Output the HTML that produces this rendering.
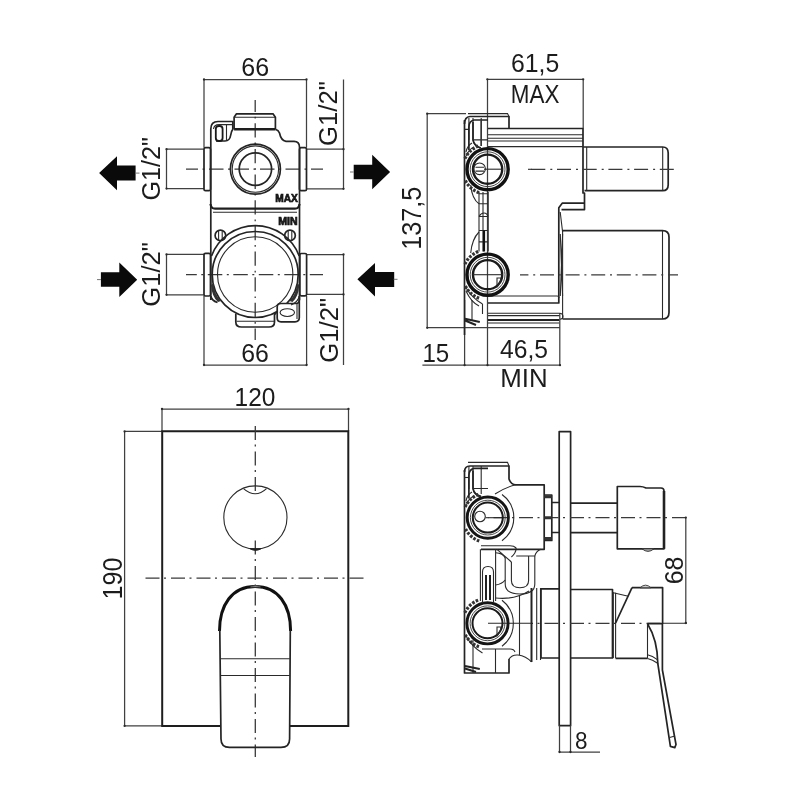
<!DOCTYPE html>
<html><head><meta charset="utf-8">
<style>
html,body{margin:0;padding:0;background:#fff;}
body{width:800px;height:800px;overflow:hidden;}
svg{display:block;will-change:transform;}
text{font-family:"Liberation Sans",sans-serif;fill:#1c1c1c;}
.d{stroke:#404040;stroke-width:1.25;fill:none;}
.o{stroke:#242424;stroke-width:1.7;fill:none;stroke-linejoin:round;}
.t{stroke:#2a2a2a;stroke-width:1.1;fill:none;}
.k{stroke:#111;stroke-width:3;fill:none;}
.c{stroke:#3a3a3a;stroke-width:1.3;fill:none;stroke-dasharray:14 4.5 2 5;}
.a{fill:#0a0a0a;stroke:none;}
</style></head>
<body>
<svg width="800" height="800" viewBox="0 0 800 800">
<rect width="800" height="800" fill="#fff"/>


<!-- ============ TOP-LEFT VIEW ============ -->
<g id="tl">
  <!-- dimension 66 top -->
  <path class="d" d="M204,79.5H306.5 M204,79.5V147.5 M306.5,79.5V147.5"/>
  <text x="241.3" y="76.3" font-size="26.5" textLength="27.8" lengthAdjust="spacingAndGlyphs">66</text>
  <!-- dimension 66 bottom -->
  <path class="d" d="M204,365H306.6 M204,296V365 M306.6,296V365"/>
  <text x="241.3" y="362" font-size="26.5" textLength="27.6" lengthAdjust="spacingAndGlyphs">66</text>
  <!-- G1/2 dims left -->
  <path class="d" d="M166.5,149.2V188.6 M166.5,149.2H204 M166.5,188.6H204"/>
  <path class="d" d="M166.5,254.4V294.8 M166.5,254.4H204 M166.5,294.8H204"/>
  <!-- G1/2 dims right -->
  <path class="d" d="M343.5,79.5V188.8 M306.5,149.2H343.5 M306.5,188.8H343.5"/>
  <path class="d" d="M343.5,254.5V365 M306.6,254.5H343.5 M306.6,294.4H343.5"/>
  <text transform="translate(160.3,200.6) rotate(-90)" font-size="26" textLength="63.6" lengthAdjust="spacingAndGlyphs">G1/2"</text>
  <text transform="translate(160.3,306.7) rotate(-90)" font-size="26" textLength="64.6" lengthAdjust="spacingAndGlyphs">G1/2"</text>
  <text transform="translate(337.3,146) rotate(-90)" font-size="26" textLength="65" lengthAdjust="spacingAndGlyphs">G1/2"</text>
  <text transform="translate(337.8,362.8) rotate(-90)" font-size="26" textLength="65" lengthAdjust="spacingAndGlyphs">G1/2"</text>

  <!-- arrows -->
  <path class="a" d="M99.1,173.1 L117,156.3 V165.6 H135.6 V180.6 H117 V190.2 Z"/>
  <path class="a" d="M390.1,172 L372.2,154.7 V164.8 H353.7 V179.2 H372.2 V189.2 Z"/>
  <path class="a" d="M137.2,279.7 L119.3,262.6 V272.3 H100.9 V286.7 H119.3 V297 Z"/>
  <path class="a" d="M357.4,279.2 L375,262.9 V272 H394.2 V286.9 H375 V296.5 Z"/>

  <path stroke="#666" stroke-width="0.9" d="M135.6,173.1H139.5 M350,172H353.7 M97,279.6H100.9 M393.6,279.3H397.5"/>
  <!-- centerlines -->
  <path class="c" style="stroke-dasharray:14.3 4.9 1.7 4.75;stroke-dashoffset:2.35" d="M255.2,100V340"/>
  <path class="c" style="stroke-dasharray:14.5 4.5 2 4.5;stroke-dashoffset:2.5" d="M186,169.2H323"/>
  <path class="c" style="stroke-dasharray:14.5 4.5 2 4.5;stroke-dashoffset:3.7" d="M186,274.6H323"/>

  <!-- stubs -->
  <rect class="o" x="204" y="147.7" width="6.5" height="43" rx="1.5"/>
  <rect class="o" x="299.5" y="147.7" width="7" height="43" rx="1.5"/>
  <rect class="o" x="204" y="253.3" width="6.5" height="42.7" rx="1.5"/>
  <rect class="o" x="299.8" y="253.5" width="6.8" height="42.3" rx="1.5"/>

  <!-- body outline -->
  <path class="o" d="M210.8,300 V129 Q210.8,121.5 218,121.5 H232.8 V129.3 Q231.2,131 230.6,135.5 Q229.8,140.8 225,141 H216
     M275.4,129.2 Q278.5,130 279.5,133 Q281,140.5 286,141.3 H294 Q299.5,141.5 299.5,147 V300"/>
  <!-- cap -->
  <path class="o" d="M234.1,129.2 V117.2 L236.5,113.8 H273 L275.4,117.2 V129.2"/>
  <path class="t" d="M234.1,117.2 H275.4"/>
  <path stroke="#1e1e1e" stroke-width="2.4" d="M234.1,129.2 H275.4"/>
  <!-- lug slot -->
  <rect x="215.8" y="126" width="6.8" height="15" rx="3" stroke="#1a1a1a" stroke-width="1.8" fill="none"/>
  <path class="t" d="M226.5,124.6 V140.5 M213.5,129 Q214,124.6 219,124.6 H232.8"/>

  <!-- upper port circles -->
  <circle class="o" cx="255.4" cy="169.1" r="25"/>
  <circle class="t" cx="255.4" cy="169.1" r="23.2"/>
  <circle class="o" cx="255.4" cy="169.1" r="16.2"/>

  <!-- divider -->
  <path stroke="#1e1e1e" stroke-width="2.2" fill="none" d="M210.5,204 Q211,208.6 215,208.6 H295 Q299,208.6 299.5,204"/>
  <path class="t" d="M213,212.2 H297"/>
  <!-- MAX MIN small -->
  <text x="275.2" y="201.6" font-size="10.8" font-weight="bold" stroke="#111" stroke-width="0.7" textLength="22.6" lengthAdjust="spacingAndGlyphs">MAX</text>
  <text x="278.3" y="225.2" font-size="10.6" font-weight="bold" stroke="#111" stroke-width="0.7" textLength="19.4" lengthAdjust="spacingAndGlyphs">MIN</text>

  <!-- screws -->
  <circle class="o" cx="220.4" cy="235.4" r="5.3"/>
  <path class="t" d="M218.6,230.5V240.3 M222.2,230.5V240.3"/>
  <circle class="o" cx="290" cy="235.4" r="5.3"/>
  <path class="t" d="M288.2,230.5V240.3 M291.8,230.5V240.3"/>

  <!-- lower big circles -->
  <path class="o" d="M211.5,256 A46.8,46.8 0 0 1 299.2,256"/>
  <circle class="o" cx="255.2" cy="274.5" r="43"/>
  <circle class="t" stroke-width="1.4" cx="255.2" cy="274.5" r="37.7"/>
  <!-- lower body outline -->
  <path class="o" d="M210.8,296 Q211.5,300.5 217.5,302.5"/>
  <path d="M211,285 Q212,297 218,302 L221,301 Q214,294 213.5,283 Z" fill="#333"/>
  <path d="M299.3,285 Q298.5,297 292.5,302 L289.5,301 Q296.5,294 297,283 Z" fill="#333"/>
  <path class="o" d="M235.8,313.5 V322 Q235.8,327 241.5,327 H269 Q274.5,327 274.5,322 V313.5"/>
  <path class="t" d="M236.5,321.3 H274"/>
  <rect x="277.2" y="303.5" width="22.1" height="18.3" rx="3.5" fill="#fff"/>
  <path class="o" d="M274.5,314.5 Q276.5,313 277.2,311 V307 Q277.2,303.5 281,303.5 H296 Q299.3,303.5 299.3,300 V296"/>
  <path class="o" d="M277.2,311 V318 Q277.2,321.8 281,321.8 H295 Q299.3,321.8 299.3,317.5 V300"/>
  <path class="t" d="M297,304 V319"/>
  <ellipse class="t" stroke-width="1.3" cx="287.3" cy="312.6" rx="7.2" ry="3.9"/>
  <path class="t" d="M299.5,296 Q298,302 291,305"/>
</g>

<!-- ============ TOP-RIGHT VIEW ============ -->
<g id="tr">
  <path class="d" d="M487.3,79.3H583.2 M487.5,79.3V365.5 M583.2,79.3V128.5"/>
  <text x="511" y="72" font-size="26.5" textLength="48.2" lengthAdjust="spacingAndGlyphs">61,5</text>
  <text x="510.8" y="103.1" font-size="26.5" textLength="48.6" lengthAdjust="spacingAndGlyphs">MAX</text>
  <path class="d" d="M427.2,113.7V327.5 M427.2,113.7H466 M427.2,327.5H560"/>
  <text transform="translate(420.5,249.8) rotate(-90)" font-size="27" textLength="63.2" lengthAdjust="spacingAndGlyphs">137,5</text>
  <path class="d" d="M422.4,365.2H560 M464.6,300V365.5 M559.8,313V365.5"/>
  <text x="422.4" y="361.6" font-size="26" textLength="26.8" lengthAdjust="spacingAndGlyphs">15</text>
  <text x="500" y="358" font-size="26" textLength="48" lengthAdjust="spacingAndGlyphs">46,5</text>
  <text x="500.3" y="387.3" font-size="25" textLength="47.4" lengthAdjust="spacingAndGlyphs">MIN</text>

  <!-- cap -->
  <path class="o" d="M464.5,124 Q464.5,117 470,116.5 H509 V128.5"/>
  <path class="t" d="M468,113.6 H507.5 L509,116.5"/>
  <!-- body -->
  <path class="o" d="M488,128.5 H583 V193 H584.5 V209.6 H561.5"/>
  <path class="o" d="M584.5,203.2 H562.2 L558.8,207.8 V303 H488"/>
  <path class="t" d="M560.2,212 L562.6,232 M560.3,234 L562.6,296 M562.6,234 L560.3,296"/>
  <path class="t" d="M488,134.8H583 M488,138.2H583 M488,141H583 M488,146.6H583"/>
  <path class="t" stroke-width="1.5" d="M488,296H557 Q559,296 559,298"/>
  <path class="t" d="M488,313.2H559.5 Q563,313.5 563,316.5 Q563,319 560,319.2 M488,315.6H559.5 M488,323H559.2"/>
  <path stroke="#222" stroke-width="1.8" d="M488,320H559.2"/>
  <!-- left flange -->
  <path class="o" d="M464.5,120V335"/>
  <path class="t" d="M468.9,118V140 M473,118V140 M481.2,118V146 M464.5,129.4H469 M473.8,139.9H488"/>
  <path class="t" d="M473,140 Q474,146 480,148"/>
  <path class="t" d="M466,152 Q467,146 472,143 M466.5,156 Q468,150 474,147"/>
  <path class="t" d="M470.7,185 Q472,199 479,203.8 M470.7,253 Q472,239 479,232"/>
  <path class="t" d="M479,192V251.5 M483,192V251.5 M488.2,192V251.5"/>
  <path class="t" d="M479,193.7H488 M479,203.8H488 M479,216.5H488 M479,230.5H488 M479,241.9H488"/>
  <path stroke="#111" stroke-width="2.2" d="M484,230.5V251.5"/>
  <path class="t" d="M479,216.5 Q481,213 484,213 Q487,213 488,216.5"/>
  <path class="t" d="M466,287.7 Q472,298 482.5,304 M472,300V320 M482.5,304V313.9"/>
  <path class="t" d="M466,291 Q471,302 479,306"/>
  <path stroke="#222" stroke-width="2" fill="none" d="M465,318.7 L479.8,322 M465,320.5 L476,325"/>
  <!-- ports -->
  <circle cx="487.6" cy="169.2" r="20.6" stroke="#111" stroke-width="3.4" fill="none"/>
  <circle cx="487.6" cy="169.2" r="17.4" stroke="#333" stroke-width="0.9" fill="none"/>
  <circle cx="487.6" cy="169.2" r="14.6" stroke="#1a1a1a" stroke-width="2.4" fill="none"/>
  <circle class="t" cx="479.6" cy="168.8" r="5.8"/>
  <path class="t" d="M475.5,167.3H484 M475.5,171.1H484"/>
  <circle cx="487.6" cy="274.7" r="20.6" stroke="#111" stroke-width="3.4" fill="none"/>
  <circle cx="487.6" cy="274.7" r="17.4" stroke="#333" stroke-width="0.9" fill="none"/>
  <circle cx="487.6" cy="274.7" r="14.6" stroke="#1a1a1a" stroke-width="2.4" fill="none"/>
  <path class="t" d="M497,287 Q500,284 501,278 H497 Z"/>
  <path class="t" d="M473,274.7H503"/>
  <path class="t" d="M484,169.2H503"/>
  <path stroke="#222" stroke-width="1.7" fill="none" d="M468.9,150 V127 Q469,121 474,120 H488 M473,122 V139.9 Q474,146 481,148"/>
  <path stroke="#333" stroke-width="1.4" fill="none" d="M481.2,121 V146"/>
  <path d="M464.95,158.63 A25,25 0 0 1 479.05,145.71 M479.05,192.69 A25,25 0 0 1 464.95,179.77" stroke="#333" stroke-width="3.2" fill="none" stroke-dasharray="2.6 1.4"/>
  <path d="M464.95,264.13 A25,25 0 0 1 479.05,251.21 M479.05,298.19 A25,25 0 0 1 464.95,285.27" stroke="#333" stroke-width="3.2" fill="none" stroke-dasharray="2.6 1.4"/>
  <!-- pipes -->
  <path class="o" d="M583.2,147 H662.7 Q668.2,147 668.2,153 V184.7 Q668.2,190.7 662.7,190.7 H584.5"/>
  <path class="t" d="M586.7,147V190.7 M662.7,147V190.7"/>
  <path class="o" d="M562.5,230.6 H662.5 Q669,230.6 669,237 V312.5 Q669,319 662.5,319 H562.5"/>
  <path class="t" d="M662.5,230.6V319"/>
  <path class="t" stroke-width="1.4" d="M562.6,230.6 V319"/>
  <!-- centerlines -->
  <path class="c" style="stroke-dasharray:14 5 2 4.7;stroke-dashoffset:22.4" d="M528,169.3H678"/>
  <path class="t" stroke-width="1.3" stroke="#3a3a3a" d="M528,169.3H532"/>
  <path class="c" style="stroke-dasharray:14 4.8 2 4.8;stroke-dashoffset:5.6" d="M520,274.9H678"/>
</g>

<!-- ============ BOTTOM-LEFT VIEW ============ -->
<g id="bl">
  <path class="d" d="M162,409H348.5 M162,409V431 M348.5,409V431"/>
  <text x="234.6" y="406.3" font-size="25.5" textLength="40.8" lengthAdjust="spacingAndGlyphs">120</text>
  <path class="d" d="M124.6,431.4V725.9 M124.6,431.4H162 M124.6,725.9H162"/>
  <text transform="translate(122.3,599.5) rotate(-90)" font-size="27" textLength="42" lengthAdjust="spacingAndGlyphs">190</text>
  <!-- plate -->
  <path stroke="#1e1e1e" stroke-width="2" fill="none" d="M221,726 H162.2 V431.2 H348.3 V726 H289.6"/>
  <!-- centerlines -->
  <path class="c" d="M255.3,426V492 M255.3,540.5V757"/>
  <path class="c" d="M145.5,578.2H364"/>
  <!-- knob -->
  <circle class="t" cx="255.4" cy="517.5" r="31.6" stroke-width="1.4"/>
  <path class="t" d="M243.5,488.6 Q255.4,499 266.5,488.6"/>
  <path d="M250,548.7 Q255.5,552 261,548.7 Z" fill="#222" stroke="#222" stroke-width="1"/>
  <!-- lever -->
  <path class="k" d="M219.5,631 C219.5,605 232,586.5 255.1,586.5 C278.2,586.5 290.6,605 290.6,631"/>
  <path class="o" stroke-width="1.6" d="M219.8,630 L221,739 Q221,747.4 229.5,747.4 H281 Q289.6,747.4 289.6,739 L290.3,630"/>
  <path class="t" d="M221,658.8H289.8 M221,675.5H289.8"/>
  <path d="M250.5,587 Q255.4,584.5 260.5,587 Z" fill="#bbb" stroke="#555" stroke-width="0.8"/>
</g>

<!-- ============ BOTTOM-RIGHT VIEW ============ -->
<g id="br">
  <!-- wall plate -->
  <rect class="o" x="559.2" y="431.6" width="11.4" height="294" />
  <path class="d" d="M559.5,725.6V752.5 M570.5,725.6V752.5 M559.5,752H600"/>
  <text x="575" y="748.7" font-size="23" textLength="12.5" lengthAdjust="spacingAndGlyphs">8</text>
  <!-- upper stem + knob -->
  <path class="o" d="M551.8,502.5H559.2 M551.8,532.5H559.2"/>
  <path class="o" d="M570.6,503.1H617.5 M570.6,532.6H617.5"/>
  <path class="o" d="M617.3,486.5 H640 Q643,486.5 646,488 H661 Q664,488 664,491 V548.8 H617.3 Z"/>
  <path stroke="#222" stroke-width="2.6" d="M664,491 V548.8"/>
  <path d="M642,548.8 Q648,554 654,548.8 Z" fill="#aaa" stroke="#333" stroke-width="0.9"/>
  <!-- 68 dim -->
  <path class="d" d="M685.8,517.6V623"/>
  <path class="c" style="stroke-dasharray:14 4.5 2 5;stroke-dashoffset:20" d="M488,517.7H687"/>
  <path class="t" d="M485.5,517.7H502"/>
  <path class="c" style="stroke-dasharray:14 4.5 2 5;stroke-dashoffset:12" d="M531,623.3H662"/>
  <path class="t" d="M488,623.3H531 M662,623.3H687"/>
  <text transform="translate(683,584.3) rotate(-90)" font-size="26.5" textLength="27.8" lengthAdjust="spacingAndGlyphs">68</text>
  <!-- lower housing -->
  <path class="o" d="M541,588.8H559.2 M541,658H559.2 M570.6,589.5H612.5 V658 H570.6"/>
  <path class="t" d="M613.3,592.5V658 M615.6,592.8V658.3"/>
  <path class="o" d="M632,587.6 H662.6 V623.7"/>
  <path class="o" d="M632,587.6 L615.6,623"/>
  <path class="t" d="M612.3,592.5 L628.3,596.3"/>
  <path class="o" d="M615.6,658.3 H647.5"/>
  <path d="M640,587.8 Q645.5,582.5 651,587.8 Z" fill="#ccc" stroke="#333" stroke-width="0.9"/>
  <!-- lever -->
  <path class="o" d="M647.5,623.7 H662.4 V670 L676,744.5 L674.8,747.6 L670.4,746.4 L657.8,663.5 Q657.6,640 647.5,623.7"/>
  <path class="t" d="M647.5,623.7 V658.5"/>
  <path class="t" d="M647.5,654.8 Q652.5,655.8 657.3,659.6 M647.5,658.5 Q652.5,659.5 657.6,663.2"/>
  <path class="t" d="M669.6,737.5 L675,736"/>

  <!-- valve body -->
  <path class="t" d="M468,462.4 H507.5 L509,466"/>
  <path class="o" d="M464.5,472 Q464.5,466 470,466 H509 V479 Q511,484.8 516,484.8 H544.2 V549.3 H481"/>
  <path class="t" d="M495,494 Q506,487 516,484.8"/>
  <path class="o" d="M464.5,470 V673 H509 V659"/>
  <path class="t" d="M509,659 Q512,654.5 518,655 Q526,656 531.5,662"/>
  <path class="t" d="M468.9,466V489 M473,466V489 M481.2,466V494 M473.8,488.5H488"/>
  <path class="t" d="M464.5,477.5H469"/>
  <path class="t" d="M473,489 Q474,495 480,497"/>
  <path class="t" d="M466,501 Q467,495 472,492 M466.5,505 Q468,499 474,496"/>
  <!-- hex nut -->
  <path class="o" d="M544.4,495 H551.8 V540.5 H544.4"/>
  <path stroke="#333" stroke-width="3" d="M544.4,496.8H551.8 M544.4,517.8H551.8 M544.4,538.6H551.8"/>
  <!-- ports -->
  <circle cx="487.8" cy="517.6" r="20.6" stroke="#151515" stroke-width="2.9" fill="none"/>
  <circle cx="487.8" cy="517.6" r="17.4" stroke="#333" stroke-width="0.9" fill="none"/>
  <circle cx="487.8" cy="517.6" r="15" stroke="#1a1a1a" stroke-width="2" fill="none"/>
  <path class="t" d="M502,494.5 A28.5,28.5 0 0 1 502,540.7"/>
  <circle class="t" cx="480" cy="516.5" r="5.3"/>
  <circle cx="487.5" cy="623.3" r="20.6" stroke="#151515" stroke-width="2.9" fill="none"/>
  <circle cx="487.5" cy="623.3" r="17.4" stroke="#333" stroke-width="0.9" fill="none"/>
  <circle cx="487.5" cy="623.3" r="15" stroke="#1a1a1a" stroke-width="2" fill="none"/>
  <path class="t" d="M502,600.3 A29,29 0 0 1 502,646.3"/>
  <path class="t" d="M497,636 Q500,633 501,627 H497 Z"/>
  <path stroke="#222" stroke-width="1.7" fill="none" d="M468.9,498.4 V475.4 Q469,469.4 474,468.4 H488 M473,470.4 V488.3 Q474,494.4 481,496.4"/>
  <path d="M465.15,507.03 A25,25 0 0 1 479.25,494.11 M479.25,541.09 A25,25 0 0 1 465.15,528.17" stroke="#333" stroke-width="3.2" fill="none" stroke-dasharray="2.6 1.4"/>
  <path d="M464.85,612.73 A25,25 0 0 1 478.95,599.81 M478.95,646.79 A25,25 0 0 1 464.85,633.87" stroke="#333" stroke-width="3.2" fill="none" stroke-dasharray="2.6 1.4"/>
  <!-- middle connector -->
  <path class="t" d="M481,545.8 H510 Q514,545.8 516.2,548"/>
  <path class="t" d="M505.2,558 V584 Q505.2,594 520,594 Q534.8,594 534.8,584 V556"/>
  <path class="t" d="M511.4,562 V580.5 Q511.4,587.8 520,587.8 Q528.6,587.8 528.6,580.5 V556"/>
  <path class="t" d="M495.6,552.7 Q503,553 505.2,558 M497,549.3 L511.4,562 M516.2,548 Q516,553 511.4,557 M516.2,556 H534.8 M534.8,556 Q536,551 541,549.3"/>
  <path class="t" d="M480.4,549.3 V601 M495.6,549.3 V601"/>
  <path class="t" d="M482.5,603 V572 Q482.5,566.5 488,566.5 Q493.5,566.5 493.5,572 V603"/>
  <path stroke="#222" stroke-width="2" d="M486,575 V600 M490,575 V600"/>
  <path class="t" d="M495.6,585 Q502,584 505.2,580 M495.6,598 Q515,600 529,591"/>
  <path class="t" d="M519.5,596 V655"/>
  <path stroke="#222" stroke-width="2" d="M531.5,588 V662"/>
  <path class="t" d="M536.7,588 V660 M540.5,588 V660"/>
  <path class="o" d="M541,588.8 V658"/>
  <path class="t" d="M482,649 H510 Q514,649 515,652"/>
  <path class="t" d="M473,640 V673 M495.5,649 V673"/>
  <path class="t" d="M466,636 Q472,647 482.5,653"/>
  <path stroke="#222" stroke-width="2" fill="none" d="M465,666 L479.8,669 M465,668.5 L476,672"/>
</g>
<g fill="#2a2a2a"><circle cx="204" cy="79.5" r="1.15"/><circle cx="306.5" cy="79.5" r="1.15"/><circle cx="204" cy="365" r="1.15"/><circle cx="306.6" cy="365" r="1.15"/><circle cx="166.5" cy="149.2" r="1.15"/><circle cx="166.5" cy="188.6" r="1.15"/><circle cx="166.5" cy="254.4" r="1.15"/><circle cx="166.5" cy="294.8" r="1.15"/><circle cx="343.5" cy="149.2" r="1.15"/><circle cx="343.5" cy="188.8" r="1.15"/><circle cx="343.5" cy="254.5" r="1.15"/><circle cx="343.5" cy="294.4" r="1.15"/><circle cx="487.3" cy="79.3" r="1.15"/><circle cx="583.2" cy="79.3" r="1.15"/><circle cx="427.2" cy="113.7" r="1.15"/><circle cx="427.2" cy="327.8" r="1.15"/><circle cx="464.6" cy="365.2" r="1.15"/><circle cx="487.5" cy="365.2" r="1.15"/><circle cx="560" cy="365.2" r="1.15"/><circle cx="162" cy="409" r="1.15"/><circle cx="348.5" cy="409" r="1.15"/><circle cx="124.6" cy="431.4" r="1.15"/><circle cx="124.6" cy="725.9" r="1.15"/><circle cx="685.8" cy="517.6" r="1.15"/><circle cx="685.8" cy="623" r="1.15"/><circle cx="559.5" cy="752" r="1.15"/><circle cx="570.5" cy="752" r="1.15"/></g>
</svg>
</body></html>
